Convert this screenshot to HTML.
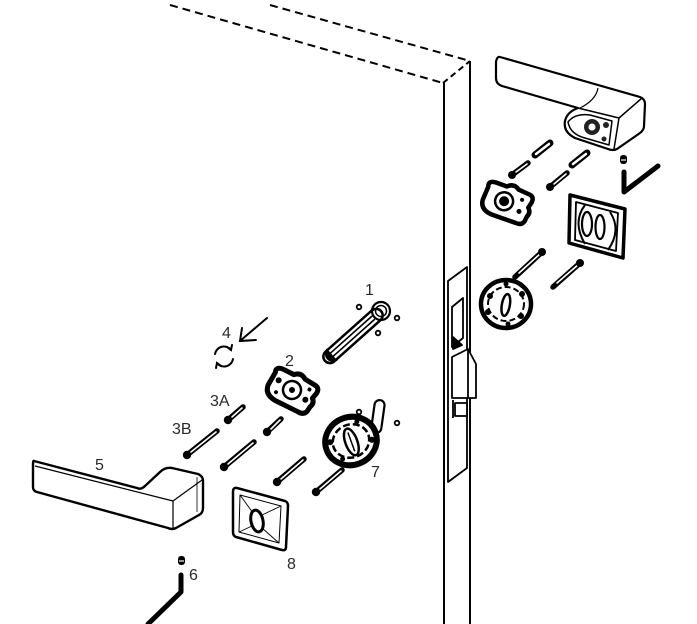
<!DOCTYPE html>
<html><head><meta charset="utf-8"><style>
html,body{margin:0;padding:0;background:#fff;}
svg{display:block;}
text{font-family:"Liberation Sans",sans-serif;font-size:16px;fill:#2a2a2a;}
</style></head><body>
<svg width="697" height="624" viewBox="0 0 697 624" xmlns="http://www.w3.org/2000/svg">
<rect width="697" height="624" fill="#fff"/>
<!-- door -->
<g stroke="#000" stroke-width="2" fill="none">
<line x1="170" y1="5" x2="443" y2="83" stroke-dasharray="8 5"/>
<line x1="270" y1="5" x2="470" y2="61" stroke-dasharray="8 5"/>
<line x1="443" y1="83" x2="470" y2="61" stroke-dasharray="6 4"/>
<line x1="444" y1="83" x2="444" y2="624"/>
<line x1="470" y1="61" x2="470" y2="624"/>
</g>
<!-- lock faceplate -->
<g stroke="#000" stroke-width="1.8" fill="#fff" stroke-linejoin="round">
<polygon points="448,281 467,267 467,468 448,482"/>
<polygon points="452,307 463,298 463,338 452,347"/>
<polygon points="453,337 462,345 453,349" fill="#000"/>
<polygon points="452,357 468,349 476,364 476,398 452,398"/>
<line x1="468" y1="349" x2="468" y2="398"/>
<rect x="455" y="403" width="12" height="13"/>
<line x1="453" y1="400" x2="453" y2="418"/>
</g>
<!-- right hex key -->
<rect x="620" y="155" width="7" height="9" rx="3" fill="#000"/>
<line x1="621" y1="160" x2="626" y2="160" stroke="#fff" stroke-width="1.2"/>
<polyline points="624,172 624,192 658,166" fill="none" stroke="#000" stroke-width="5" stroke-linecap="round" stroke-linejoin="round"/>
<!-- right handle -->
<g stroke="#000" stroke-width="2.2" fill="#fff" stroke-linejoin="round">
<path d="M500,57 L640,97 Q645,99 645,104 L644,126 Q644,130 640,133 L617,149 Q613,151 608,149 L575,138 Q563,132 565,121 Q567,112 578,108 L502,86 Q496,84 496,78 L496,62 Q497,56 500,57 Z"/>
<path d="M578,108 L619,118 L642,98" fill="none" stroke-width="1.5"/>
<path d="M619,118 L614,149" fill="none" stroke-width="1.5"/>
<path d="M598,88 Q596,100 580,108" fill="none" stroke-width="1.2"/>
<path d="M568,122 Q575,113 590,115 L612,121 L609,145 L585,138 Q570,134 568,122 Z" fill="#fff" stroke-width="1.5"/>
<circle cx="592" cy="127" r="8" fill="#222" stroke="none"/>
<circle cx="592" cy="127" r="3.5" fill="#fff" stroke="none"/>
<circle cx="606" cy="125" r="3" fill="#222" stroke="none"/>
<circle cx="604" cy="139" r="2.5" fill="#222" stroke="none"/>
</g>
<!-- right pins & screws -->
<g stroke-linecap="round">
<line x1="535" y1="155" x2="550" y2="143" stroke="#000" stroke-width="7"/>
<line x1="536" y1="154" x2="549" y2="144" stroke="#fff" stroke-width="2.5"/>
<line x1="572" y1="165" x2="587" y2="153" stroke="#000" stroke-width="7"/>
<line x1="573" y1="164" x2="586" y2="154" stroke="#fff" stroke-width="2.5"/>
<line x1="512" y1="175" x2="528" y2="163" stroke="#000" stroke-width="5.5"/>
<line x1="516" y1="172" x2="527" y2="164" stroke="#fff" stroke-width="1.6"/>
<circle cx="512" cy="175" r="4" fill="#000"/>
<line x1="550" y1="187" x2="567" y2="173" stroke="#000" stroke-width="5.5"/>
<line x1="554" y1="184" x2="566" y2="174" stroke="#fff" stroke-width="1.6"/>
<circle cx="550" cy="187" r="4" fill="#000"/>
<line x1="515" y1="277" x2="542" y2="252" stroke="#000" stroke-width="5.5"/>
<line x1="519" y1="273" x2="541" y2="253" stroke="#fff" stroke-width="1.6"/>
<circle cx="542" cy="252" r="4" fill="#000"/>
<line x1="553" y1="287" x2="580" y2="263" stroke="#000" stroke-width="5.5"/>
<line x1="557" y1="283" x2="579" y2="264" stroke="#fff" stroke-width="1.6"/>
<circle cx="580" cy="263" r="4" fill="#000"/>
</g>
<!-- right small rose -->
<g transform="translate(507,202) rotate(15)">
<path d="M-22,-10 Q-24,-16 -16,-16 L-4,-15 Q2,-20 8,-15 L20,-13 Q25,-12 24,-6 L22,0 Q26,4 23,9 L22,14 Q20,19 14,18 L-12,16 Q-24,14 -24,4 Z" fill="#fff" stroke="#000" stroke-width="4.5" stroke-linejoin="round"/>
<circle cx="-3" cy="0" r="9" fill="#fff" stroke="#000" stroke-width="2.5"/>
<circle cx="-3" cy="0" r="5" fill="#000"/>
<circle cx="14" cy="6" r="2.5" fill="#000"/>
<circle cx="14" cy="-6" r="2" fill="#000"/>
</g>
<!-- right square escutcheon -->
<g stroke="#000" fill="#fff" stroke-linejoin="round">
<polygon points="570,195 625,209 623,258 569,243" stroke-width="3.5"/>
<polygon points="576,202 618,213 616,251 575,240" stroke-width="1.8"/>
<path d="M585,205 Q572,222 585,244" fill="none" stroke-width="2"/>
<ellipse cx="587" cy="224" rx="5" ry="12" stroke-width="2.2"/>
<ellipse cx="600" cy="227" rx="4.5" ry="12" stroke-width="2.2"/>
<path d="M610,212 Q622,230 608,250" fill="none" stroke-width="2"/>
</g>
<!-- right round rose -->
<g transform="translate(506,304)">
<ellipse cx="0" cy="0" rx="25" ry="24" fill="#fff" stroke="#000" stroke-width="4.5"/>
<ellipse cx="0" cy="0" rx="18" ry="17" fill="none" stroke="#000" stroke-width="2" stroke-dasharray="6 3"/>
<ellipse cx="0" cy="1" rx="4" ry="11" fill="#fff" stroke="#000" stroke-width="2.5" transform="rotate(10)"/>
<circle cx="-16" cy="-8" r="3" fill="#000"/>
<circle cx="16" cy="-10" r="3" fill="#000"/>
<circle cx="-18" cy="8" r="3" fill="#000"/>
<circle cx="15" cy="12" r="3" fill="#000"/>
<circle cx="0" cy="-20" r="2.5" fill="#000"/>
<circle cx="2" cy="20" r="2.5" fill="#000"/>
</g>
<!-- spindle 1 -->
<g transform="translate(381,311) rotate(138.3)">
<rect x="0" y="-6.5" width="75" height="13" rx="6.5" fill="#fff" stroke="#000" stroke-width="2.5"/>
<line x1="10" y1="-2" x2="70" y2="-2" stroke="#000" stroke-width="1.6"/>
<line x1="10" y1="2.2" x2="70" y2="2.2" stroke="#000" stroke-width="1.6"/>
<path d="M67,-6 A6.5,6.5 0 0 1 67,6 Z" fill="#000" stroke="#000" stroke-width="3"/>
</g>
<circle cx="381" cy="311" r="9" fill="none" stroke="#000" stroke-width="2.2"/>
<circle cx="381" cy="311" r="5.5" fill="none" stroke="#000" stroke-width="1.5"/>
<g fill="#fff" stroke="#000" stroke-width="1.8">
<circle cx="359" cy="307" r="2.3"/>
<circle cx="397" cy="318" r="2.3"/>
<circle cx="378" cy="333" r="2.3"/>
<circle cx="359" cy="412" r="2.3"/>
<circle cx="397" cy="423" r="2.3"/>
</g>
<!-- slot -->
<rect x="373" y="400" width="10" height="33" rx="5" fill="#fff" stroke="#000" stroke-width="2.2" transform="rotate(8 378 416)"/>
<!-- arrow 4 -->
<g stroke="#000" stroke-width="2" fill="none" stroke-linecap="round">
<line x1="267" y1="318" x2="240" y2="341"/>
<polyline points="242,328 240,341 256,340"/>
<path d="M215,354 A9,9 0 0 1 231,350"/>
<polyline points="227,347 231,350 232,345"/>
<path d="M233,359 A9,9 0 0 1 217,363"/>
<polyline points="221,366 217,363 216,368"/>
</g>
<!-- rose 2 -->
<g transform="translate(292,390) rotate(22)">
<path d="M-22,-10 Q-24,-16 -16,-16 L-4,-15 Q2,-20 8,-15 L20,-13 Q25,-12 24,-6 L22,0 Q26,4 23,9 L22,14 Q20,19 14,18 L-12,16 Q-24,14 -24,4 Z" fill="#fff" stroke="#000" stroke-width="5" stroke-linejoin="round"/>
<circle cx="0" cy="0" r="9" fill="#fff" stroke="#000" stroke-width="2.5"/>
<circle cx="0" cy="0" r="3" fill="#000"/>
<circle cx="-16" cy="-4" r="3" fill="#000"/>
<circle cx="16" cy="4" r="3" fill="#000"/>
<circle cx="16" cy="-7" r="2" fill="#000"/>
<circle cx="-14" cy="8" r="2" fill="#000"/>
</g>
<!-- rose 7 -->
<g transform="translate(351,441) rotate(-20)">
<ellipse cx="0" cy="0" rx="26" ry="24" fill="#fff" stroke="#000" stroke-width="6"/>
<ellipse cx="0" cy="0" rx="18.5" ry="16.5" fill="none" stroke="#000" stroke-width="2.5" stroke-dasharray="7 3"/>
<ellipse cx="0" cy="1" rx="6" ry="14" fill="#fff" stroke="#000" stroke-width="2.5"/>
<line x1="0" y1="-9" x2="0" y2="11" stroke="#000" stroke-width="1.5"/>
<circle cx="-20" cy="-6" r="3" fill="#000"/>
<circle cx="20" cy="6" r="3" fill="#000"/>
<circle cx="-14" cy="14" r="2.5" fill="#000"/>
<circle cx="12" cy="-16" r="2.5" fill="#000"/>
</g>
<!-- left screws -->
<g stroke-linecap="round">
<line x1="228" y1="420" x2="243" y2="407" stroke="#000" stroke-width="5.5"/>
<line x1="232" y1="417" x2="242" y2="408" stroke="#fff" stroke-width="1.6"/>
<circle cx="228" cy="420" r="4.2" fill="#000"/>
<line x1="267" y1="432" x2="281" y2="419" stroke="#000" stroke-width="5.5"/>
<line x1="271" y1="429" x2="280" y2="420" stroke="#fff" stroke-width="1.6"/>
<circle cx="267" cy="432" r="4.2" fill="#000"/>
<line x1="187" y1="455" x2="217" y2="431" stroke="#000" stroke-width="5.5"/>
<line x1="191" y1="452" x2="216" y2="432" stroke="#fff" stroke-width="1.6"/>
<circle cx="187" cy="455" r="4.2" fill="#000"/>
<line x1="224" y1="467" x2="254" y2="442" stroke="#000" stroke-width="5.5"/>
<line x1="228" y1="464" x2="253" y2="443" stroke="#fff" stroke-width="1.6"/>
<circle cx="224" cy="467" r="4.2" fill="#000"/>
<line x1="277" y1="482" x2="304" y2="459" stroke="#000" stroke-width="5.5"/>
<line x1="281" y1="479" x2="303" y2="460" stroke="#fff" stroke-width="1.6"/>
<circle cx="277" cy="482" r="4.2" fill="#000"/>
<line x1="316" y1="492" x2="342" y2="470" stroke="#000" stroke-width="5.5"/>
<line x1="320" y1="489" x2="341" y2="471" stroke="#fff" stroke-width="1.6"/>
<circle cx="316" cy="492" r="4.2" fill="#000"/>
</g>
<!-- handle 5 -->
<g stroke="#000" fill="#fff" stroke-linejoin="round">
<path d="M34,461 L137,488 Q141,490 145,486 L160,472 Q165,467 172,468 L198,474 Q203,476 203,481 L203,508 Q203,513 199,515 L176,528 Q172,530 168,528 L37,492 Q33,491 33,487 L33,465 Q33,460 34,461 Z" stroke-width="2.4"/>
<path d="M35,466 L173,501 L202,480" fill="none" stroke-width="1.2"/>
<line x1="173" y1="501" x2="173" y2="528" stroke-width="1.2"/>
<line x1="197" y1="477" x2="197" y2="512" stroke-width="0.8"/>
</g>
<!-- escutcheon 8 -->
<g stroke="#000" fill="#fff" stroke-linejoin="round">
<path d="M237,488 L285,501 Q288,502 288,506 L286,547 Q286,551 282,550 L236,537 Q233,536 233,532 L233,492 Q233,487 237,488 Z" stroke-width="2.5"/>
<polygon points="240,495 281,506 279,543 239,532" stroke-width="1"/>
<g stroke-width="0.9">
<line x1="240" y1="495" x2="253" y2="513"/>
<line x1="281" y1="506" x2="262" y2="515"/>
<line x1="279" y1="543" x2="262" y2="528"/>
<line x1="239" y1="532" x2="252" y2="526"/>
</g>
<ellipse cx="257" cy="521" rx="6" ry="11" stroke-width="3" transform="rotate(-12 257 521)"/>
</g>
<!-- hex key 6 -->
<rect x="178" y="556" width="7" height="9" rx="3" fill="#000"/>
<line x1="179" y1="561" x2="184" y2="561" stroke="#fff" stroke-width="1.2"/>
<polyline points="181,575 181,592 148,624" fill="none" stroke="#000" stroke-width="5" stroke-linecap="round" stroke-linejoin="round"/>
<!-- labels -->
<text x="365" y="295">1</text>
<text x="285" y="366">2</text>
<text x="210" y="406">3A</text>
<text x="172" y="434">3B</text>
<text x="222" y="338">4</text>
<text x="95" y="470">5</text>
<text x="189" y="580">6</text>
<text x="371" y="477">7</text>
<text x="287" y="569">8</text>
</svg>
</body></html>
